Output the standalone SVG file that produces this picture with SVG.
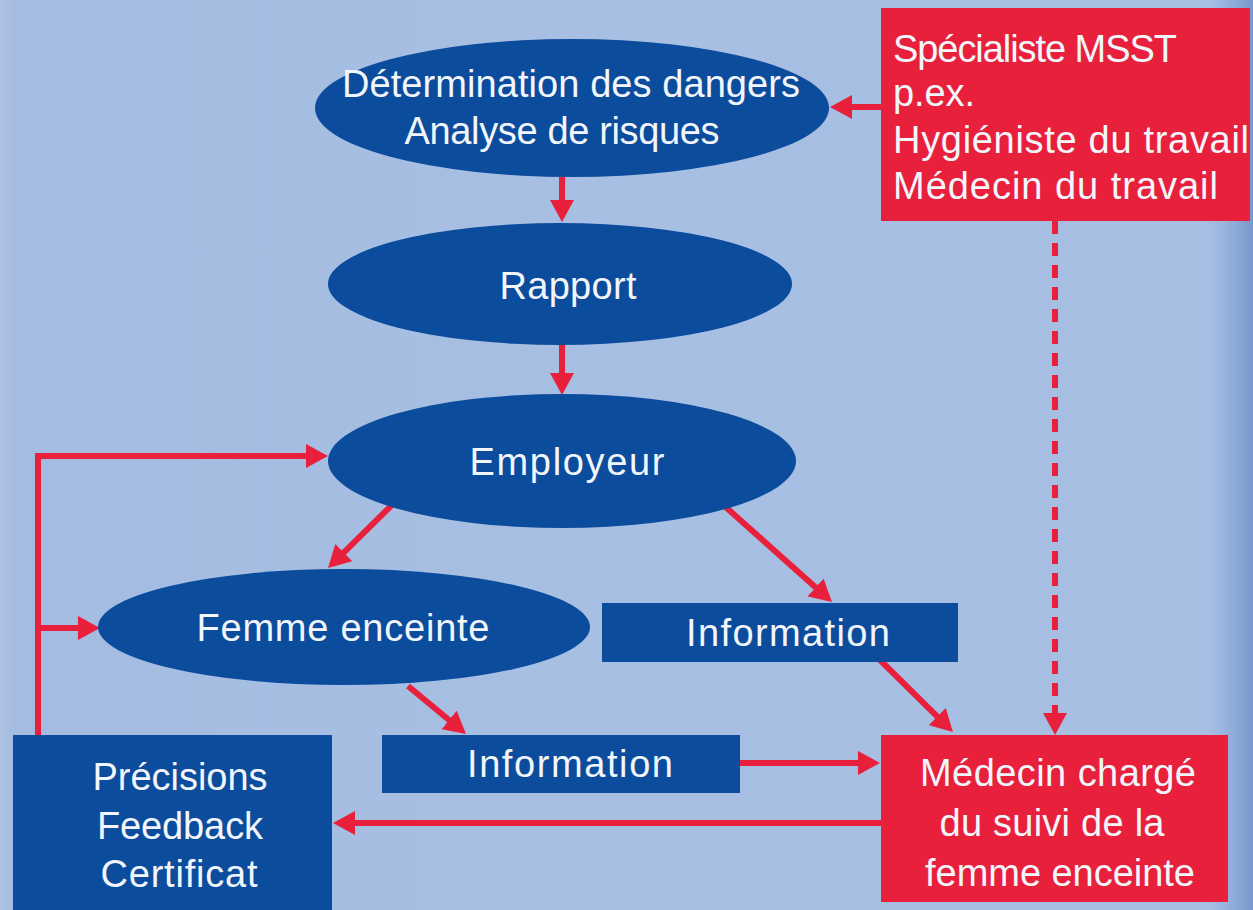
<svg xmlns="http://www.w3.org/2000/svg" width="1253" height="910" viewBox="0 0 1253 910">
<defs>
<linearGradient id="bg" x1="0" y1="0" x2="1253" y2="0" gradientUnits="userSpaceOnUse">
<stop offset="0" stop-color="#b0c2e2"/>
<stop offset="0.011" stop-color="#a4bce1"/>
<stop offset="0.5" stop-color="#a7bfe2"/>
<stop offset="0.965" stop-color="#a6bee2"/>
<stop offset="0.975" stop-color="#9db6de"/>
<stop offset="1" stop-color="#7898cc"/>
</linearGradient>
<marker id="ah" viewBox="0 0 22 24" refX="16" refY="12" markerWidth="22" markerHeight="24" markerUnits="userSpaceOnUse" orient="auto">
<path d="M0,0 L22,12 L0,24 z" fill="#e8203c"/>
</marker>
<style>
.blue{fill:#0b4c9d}
.red{fill:#e8203c}
.t{font-family:"Liberation Sans",Arial,sans-serif;font-size:38px;fill:#f2f6fb;text-anchor:middle}
.tl{font-family:"Liberation Sans",Arial,sans-serif;font-size:38px;fill:#f2f6fb;text-anchor:start}
.c{fill:none;stroke:#e8203c;stroke-width:6;marker-end:url(#ah)}
.d{fill:none;stroke:#e8203c;stroke-width:6;stroke-dasharray:13 9;marker-end:url(#ah)}
</style>
</defs>
<rect x="0" y="0" width="1253" height="910" fill="url(#bg)"/>

<g id="connectors">
<line class="c" x1="881" y1="107" x2="836" y2="107"/>
<line class="c" x1="562" y1="177" x2="562" y2="216"/>
<line class="c" x1="562" y1="345" x2="562" y2="389"/>
<line class="c" x1="397" y1="500" x2="332.3" y2="563.8"/>
<line class="c" x1="720" y1="502" x2="827.5" y2="598"/>
<line class="c" x1="408" y1="686" x2="461.4" y2="730.2"/>
<line class="c" x1="880" y1="660" x2="948.7" y2="727.8"/>
<line class="c" x1="740" y1="763" x2="874" y2="763"/>
<line class="c" x1="881" y1="823" x2="339" y2="823"/>
<polyline class="c" points="38,736 38,456 322,456"/>
<line class="c" x1="38" y1="628" x2="94" y2="628"/>
<line class="d" x1="1055" y1="221" x2="1055" y2="729"/>
</g>

<g id="node-dangers">
<ellipse class="blue" cx="572" cy="108" rx="257" ry="69"/>
<text class="t" x="571" y="97" textLength="458">Détermination des dangers</text>
<text class="t" x="562" y="144" textLength="315">Analyse de risques</text>
</g>

<g id="node-rapport">
<ellipse class="blue" cx="560" cy="284" rx="232" ry="61"/>
<text class="t" x="568" y="299" textLength="137">Rapport</text>
</g>

<g id="node-employeur">
<ellipse class="blue" cx="562" cy="461" rx="234" ry="67"/>
<text class="t" x="567" y="475" textLength="195">Employeur</text>
</g>

<g id="node-femme">
<ellipse class="blue" cx="344" cy="627" rx="246" ry="58"/>
<text class="t" x="343" y="641" textLength="293">Femme enceinte</text>
</g>

<g id="node-info-upper">
<rect class="blue" x="602" y="603" width="356" height="59"/>
<text class="t" x="788" y="646" textLength="204">Information</text>
</g>

<g id="node-info-lower">
<rect class="blue" x="382" y="735" width="358" height="58"/>
<text class="t" x="570" y="777" textLength="206">Information</text>
</g>

<g id="node-precisions">
<rect class="blue" x="13" y="735" width="319" height="180"/>
<text class="t" x="180" y="790" textLength="175">Précisions</text>
<text class="t" x="180" y="839" textLength="166">Feedback</text>
<text class="t" x="179" y="887" textLength="157">Certificat</text>
</g>

<g id="node-medecin">
<rect class="red" x="881" y="735" width="347" height="167"/>
<text class="t" x="1058" y="786" textLength="276">Médecin chargé</text>
<text class="t" x="1052" y="836" textLength="225">du suivi de la</text>
<text class="t" x="1060" y="886" textLength="270">femme enceinte</text>
</g>

<g id="node-specialiste">
<rect class="red" x="881" y="8" width="369" height="213"/>
<text class="tl" x="893" y="62" textLength="284">Spécialiste MSST</text>
<text class="tl" x="893" y="106" textLength="82">p.ex.</text>
<text class="tl" x="893" y="153" textLength="356">Hygiéniste du travail</text>
<text class="tl" x="893" y="199" textLength="325">Médecin du travail</text>
</g>
</svg>
